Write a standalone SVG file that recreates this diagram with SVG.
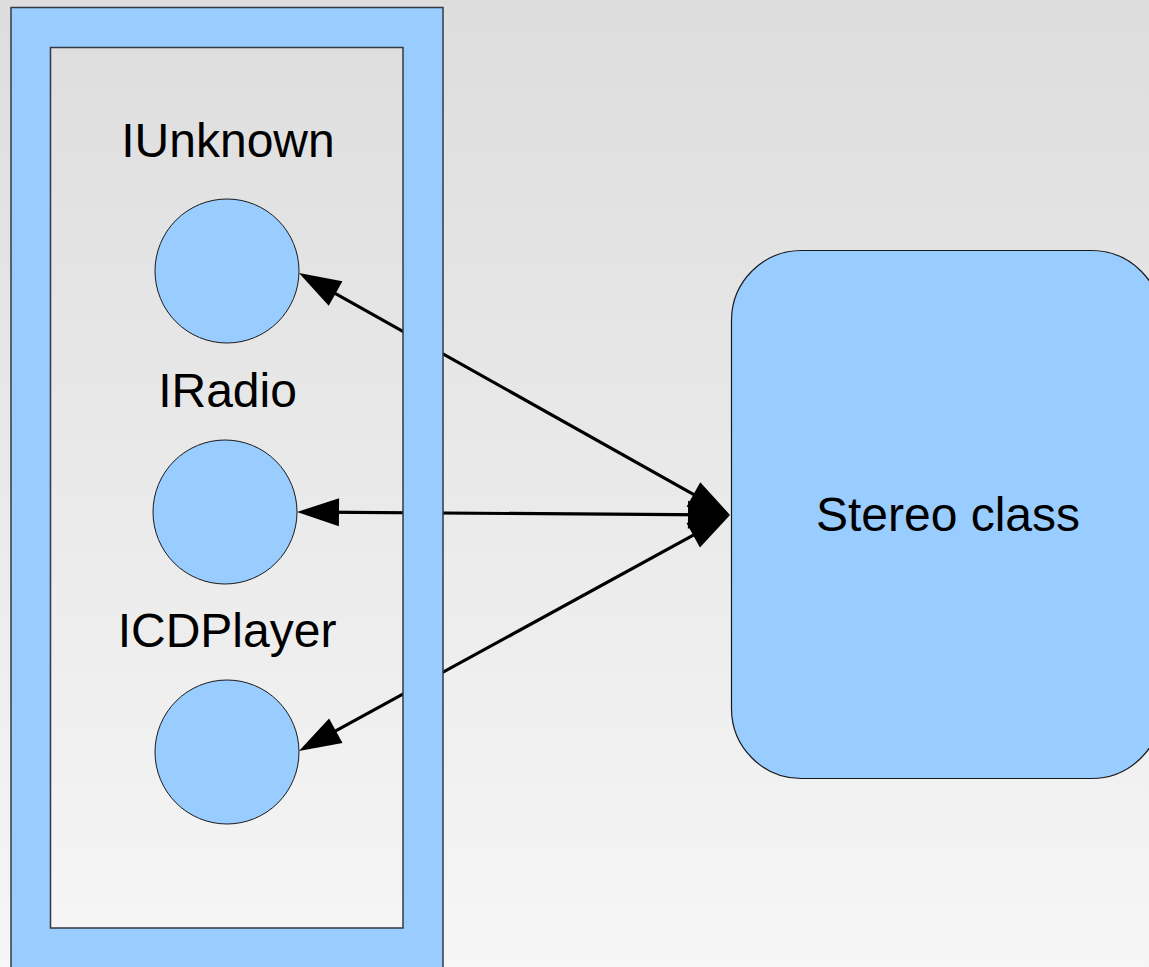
<svg xmlns="http://www.w3.org/2000/svg" width="1149" height="967" viewBox="0 0 1149 967">
  <defs>
    <linearGradient id="bg" x1="0" y1="0" x2="0" y2="1">
      <stop offset="0" stop-color="#dddddd"/>
      <stop offset="1" stop-color="#f6f6f6"/>
    </linearGradient>
    <!-- arrowhead: tip sits 20px beyond the line end so the stroke never pokes out -->
    <marker id="arrow" markerUnits="userSpaceOnUse" markerWidth="42" markerHeight="28"
            refX="22" refY="14" orient="auto-start-reverse" overflow="visible">
      <path d="M0,0 L42,14 L0,28 Z" fill="#000"/>
    </marker>
    <style>
      .blue { fill: #99ccff; }
      .iface { fill: #99ccff; stroke: #1a1a1a; stroke-width: 1; }
      .label { font-family: "Liberation Sans", Arial, sans-serif; font-size: 48px; fill: #000; text-anchor: middle; }
      .link { stroke: #000; stroke-width: 3.2; fill: none; marker-start: url(#arrow); marker-end: url(#arrow); }
    </style>
  </defs>

  <rect width="1149" height="967" fill="url(#bg)"/>

  <!-- connectors: drawn first so the component frame hides them where they cross it -->
  <g id="connectors">
    <line class="link" x1="316.4" y1="282.8" x2="712.6" y2="505.2"/>
    <line class="link" x1="317" y1="512.1" x2="710" y2="514.9"/>
    <line class="link" x1="316.5" y1="741.4" x2="712.5" y2="524.6"/>
  </g>

  <!-- component frame with open interior -->
  <g id="component">
    <path class="blue" fill-rule="evenodd" stroke="#333a44" stroke-width="1.5"
          d="M11,7.5 H443 V990 H11 Z M50.5,47.5 V928 H403 V47.5 Z"/>
  </g>

  <g id="iunknown">
    <text class="label" x="228" y="157">IUnknown</text>
    <circle class="iface" cx="227" cy="271" r="72"/>
  </g>

  <g id="iradio">
    <text class="label" x="227.5" y="407">IRadio</text>
    <circle class="iface" cx="225" cy="512" r="72"/>
  </g>

  <g id="icdplayer">
    <text class="label" x="227" y="647">ICDPlayer</text>
    <circle class="iface" cx="227" cy="752" r="72"/>
  </g>

  <g id="stereo">
    <rect class="blue" x="731.5" y="250.5" width="430" height="528" rx="70" ry="70" stroke="#1a1a1a" stroke-width="1.2"/>
    <text class="label" x="948" y="531">Stereo class</text>
  </g>
</svg>
